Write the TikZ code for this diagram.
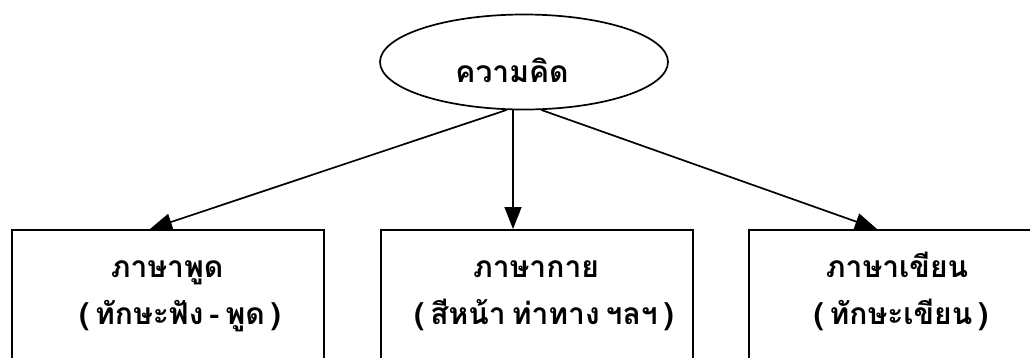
\documentclass[tikz,border=0pt]{standalone}
\usepackage{fontspec}
\newfontfamily\thaifont[Script=Thai,WordSpace=0.6]{Loma}
\usetikzlibrary{arrows.meta,shapes.geometric}
\begin{document}
\begin{tikzpicture}[x=1pt,y=-1pt,
  line width=1.7pt,
  box/.style={draw, rectangle, minimum width=312pt, minimum height=200pt, anchor=north west, inner sep=0pt},
  lbl/.style={font=\thaifont\bfseries\fontsize{30}{34}\selectfont, inner sep=0pt, anchor=base},
  arr/.style={-{Triangle[length=22pt,width=17pt]}}]
\useasboundingbox (0,0) rectangle (1030,357);
\clip (0,0) rectangle (1030,357);
\node[draw, ellipse, minimum width=288pt, minimum height=95pt, inner sep=0pt] (idea) at (524,62) {};
\node[lbl] (ideat) at (512,82) {ความคิด};
\node[box] (lbox) at (11,229) {};
\node[box] (mbox) at (380,229) {};
\node[box] (rbox) at (748,229) {};
\node[lbl] (l1) at (167,277) {ภาษาพูด};
\node[lbl] (l2) at (180,324) {( ทักษะฟัง - พูด )};
\node[lbl] (m1) at (536,277) {ภาษากาย};
\node[lbl] (m2) at (544,324) {( สีหน้า ท่าทาง ฯลฯ )};
\node[lbl] (r1) at (897,277) {ภาษาเขียน};
\node[lbl] (r2) at (901,324) {( ทักษะเขียน )};
\coordinate (lend) at (150,229);
\coordinate (mend) at (513,229);
\coordinate (rend) at (877,229);
\draw[arr] (idea.250) -- (lend);
\draw[arr] (idea.south -| mend) -- (mend);
\draw[arr] (idea.290) -- (rend);
\end{tikzpicture}
\end{document}
